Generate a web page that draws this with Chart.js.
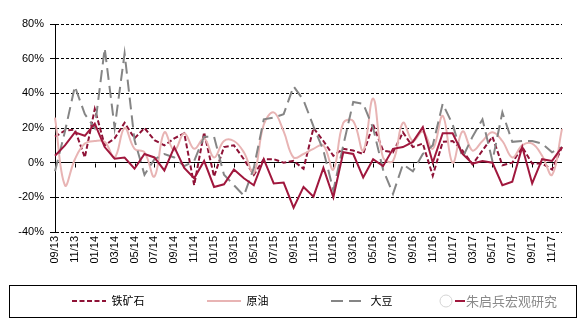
<!DOCTYPE html>
<html><head><meta charset="utf-8">
<script src="https://cdn.jsdelivr.net/npm/chart.js@4/dist/chart.umd.min.js"></script>
<style>html,body{margin:0;padding:0;background:#fff;}#wrap{width:582px;height:325px;}</style>
</head><body><div id="wrap"><canvas id="c" width="582" height="325"></canvas></div>
<script>
const categories = ['09/13','10/13','11/13','12/13',
 '01/14','02/14','03/14','04/14','05/14','06/14','07/14','08/14','09/14','10/14','11/14','12/14',
 '01/15','02/15','03/15','04/15','05/15','06/15','07/15','08/15','09/15','10/15','11/15','12/15',
 '01/16','02/16','03/16','04/16','05/16','06/16','07/16','08/16','09/16','10/16','11/16','12/16',
 '01/17','02/17','03/17','04/17','05/17','06/17','07/17','08/17','09/17','10/17','11/17','12/17'];

const seriesNames = ['铁矿石','原油','大豆','铜'];
const ironOre = [15,18.5,19,3,31,10,14,23,14,20, 13,10,14,17,-13,17.5,-8,9,10,2,
 -7,2,2,0,1,-3.5,20,12.5,4,8, 7,5,22,7,6,17.5,9,11,-7.5,12,
 12.5,7,-1,7,15,-1.5,0,9,-0.5,-0.5, -4,9];
const crudeOil = [26,-13,2,11,12.5,12,3,20,8,6, -8,17.5,7,17,8,14,3,12.5,12.5,6,
 -6,22,29,18,3,5,8,10,-4,23, 24,7,37,3,1,23,12.5,18,8,27,
 0,18,7,12.5,17.5,12.5,3,10,11,4, -7,19.5];
const soybean = [-5,18,44,28,20,66,20,63,13,-7, 2,5,3,-2,1,15,15,-7,-13,-19,
 -3,25,26,28,44,36,21,7,-16,10, 35,34,20,-4,-18,-1,-5,5,10,34,
 22,3,15,25,1,29,12,12.5,12.5,11, 6,9];
const copper = [4,10,17.5,15.5,22.5,9,2.3,3,-3.5,5, 3,-4.5,9,-3,-9,1,-14,-12.5,-4,-9,
 -13,2,-12,-11.5,-26,-14,-19.6,-3,-20,6, 5,-8.5,2,-2,8,9,12,20.5,0,17,
 17,5,-0.5,1,0,-13,-11,9,-12,2, 1,9];
const yTicks = [-40,-20,0,20,40,60,80];
const watermark = '朱启兵宏观研究';

const LEG_PAD = 62.5, LEG_FONT = 11, LEG_SHIFT = 39;

const decor = {
  id: 'decor',
  beforeLayout(chart) {
    const lg = chart.legend;
    if (lg && !lg._shiftPatched && typeof lg._draw === 'function') {
      lg._shiftPatched = true;
      const orig = lg._draw;
      lg._draw = function () {
        const t = this.top;
        this.top = t - LEG_SHIFT;
        try { orig.call(this); } finally { this.top = t; }
      };
    }
  },
  beforeDatasetsDraw(chart) {
    const {ctx, scales: {x, y}} = chart;
    const y0 = Math.round(y.getPixelForValue(0)) + 0.5;
    ctx.save();
    ctx.strokeStyle = '#000'; ctx.lineWidth = 1;
    ctx.beginPath();
    x.ticks.forEach((t, i) => {
      if (i % 2 !== 0) return;
      const px = Math.round(x.getPixelForTick(i)) + 0.5;
      ctx.moveTo(px, y0); ctx.lineTo(px, y0 + 4);
    });
    ctx.stroke();
    ctx.restore();
  },
  afterDraw(chart) {
    const ctx = chart.ctx, lg = chart.legend;
    const cy = lg.top - LEG_SHIFT + LEG_PAD + LEG_FONT / 2;
    ctx.save();
    ctx.strokeStyle = '#000'; ctx.lineWidth = 1;
    ctx.strokeRect(9.5, Math.round(cy - 16) + 0.5, chart.width - 15, 32);
    const h4 = lg.legendHitBoxes[3];
    const wx = h4.left + 10;
    ctx.fillStyle = '#fff';
    ctx.fillRect(wx, cy - 11, 102, 22);
    ctx.strokeStyle = '#d4d4d4';
    ctx.beginPath(); ctx.arc(h4.left - 9, cy, 6, 0, Math.PI * 2); ctx.stroke();
    ctx.fillStyle = '#8a8a8a';
    ctx.font = '13px "Noto Sans CJK SC"';
    ctx.textBaseline = 'middle';
    ctx.fillText(watermark, wx + 1, cy);
    ctx.restore();
  }
};

new Chart(document.getElementById('c'), {
  type: 'line',
  data: {
    labels: categories,
    datasets: [
      {label: seriesNames[0], data: ironOre, borderColor: '#8E1236', borderWidth: 2, borderDash: [5,2.5], pointRadius: 0, tension: 0, order: 4},
      {label: seriesNames[1], data: crudeOil, borderColor: '#E8B4B4', borderWidth: 2, pointRadius: 0, tension: 0.4, order: 3},
      {label: seriesNames[2], data: soybean, borderColor: '#858585', borderWidth: 2, borderDash: [12,6], pointRadius: 0, tension: 0, order: 2},
      {label: seriesNames[3], data: copper, borderColor: '#A0173D', borderWidth: 2, pointRadius: 0, tension: 0, order: 1}
    ]
  },
  options: {
    responsive: false, animation: false, devicePixelRatio: 1, events: [],
    layout: {padding: {left: 0, right: 4.5, top: 24, bottom: 8.5}},
    plugins: {
      tooltip: {enabled: false},
      legend: {
        position: 'bottom', align: 'center', maxHeight: 44.5,
        labels: {
          usePointStyle: true, pointStyle: 'line', pointStyleWidth: 34,
          padding: LEG_PAD, color: '#000',
          font: {family: '"Noto Sans CJK SC"', size: LEG_FONT},
          sort: (a, b) => a.datasetIndex - b.datasetIndex,
          generateLabels: (chart) => {
            const items = Chart.defaults.plugins.legend.labels.generateLabels(chart);
            items.forEach(it => {
              const ds = chart.data.datasets[it.datasetIndex];
              it.lineDash = ds.borderDash || [];
              it.lineWidth = ds.borderWidth;
              it.strokeStyle = ds.borderColor;
              it.fillStyle = ds.borderColor;
            });
            return items;
          }
        }
      }
    },
    scales: {
      x: {
        offset: false,
        grid: {display: false, drawTicks: false},
        border: {display: false},
        ticks: {
          autoSkip: false, maxRotation: 90, minRotation: 90, padding: 4,
          color: '#000', font: {family: '"Liberation Sans", Arial', size: 11},
          callback: (v, i) => (i % 2 === 0 ? categories[i] : '')
        },
        afterFit: (s) => { s.height = 40; }
      },
      y: {
        min: -40, max: 80,
        afterBuildTicks: (s) => { s.ticks = yTicks.map(v => ({value: v})); },
        grid: {color: '#000', lineWidth: 1, drawTicks: true, tickLength: 5, tickColor: '#000', tickBorderDash: []},
        border: {display: true, color: '#000', width: 1,
          dash: (c) => (c.tick && c.tick.value === 0) ? [] : [3,2]},
        ticks: {padding: 6, color: '#000', font: {family: '"Liberation Sans", Arial', size: 11},
          callback: (v) => v + '%'},
        afterFit: (s) => { s.width = 55; }
      },
      yR: {
        position: 'right', display: true,
        grid: {display: false, drawTicks: false},
        border: {display: false},
        ticks: {display: false},
        afterFit: (s) => { s.width = 15.5; }
      }
    }
  },
  plugins: [decor]
});
</script></body></html>
